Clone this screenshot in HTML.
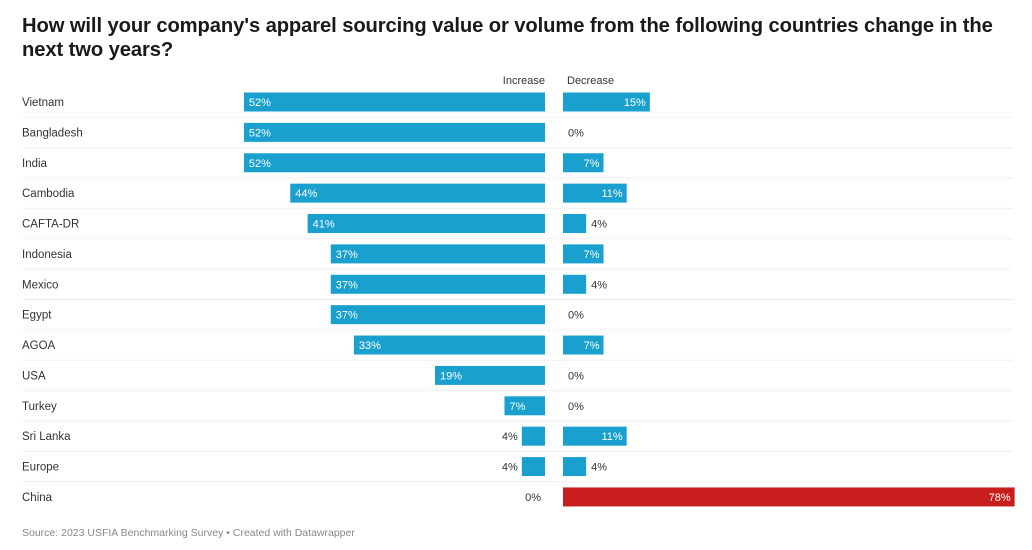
<!DOCTYPE html>
<html><head><meta charset="utf-8"><style>
body{margin:0;width:1032px;height:550px;background:#fff;font-family:"Liberation Sans",Arial,sans-serif;overflow:hidden;position:relative}
h1{position:absolute;left:22px;top:14px;margin:0;font-size:20.2px;line-height:24px;font-weight:bold;color:#1a1a1a;width:985px;letter-spacing:-0.1px}
.src{position:absolute;left:22px;top:527px;font-size:10.5px;color:#888}
.hdr{position:absolute;top:75px;font-size:11px;color:#333}
</style></head><body>
<h1>How will your company's apparel sourcing value or volume from the following countries change in the next two years?</h1>
<div class="hdr" style="right:487px">Increase</div>
<div class="hdr" style="left:567px">Decrease</div>
<svg id="chart" width="1032" height="550" style="position:absolute;left:0;top:0"></svg>
<div class="src">Source: 2023 USFIA Benchmarking Survey • Created with Datawrapper</div>
<script>
const categories=["Vietnam","Bangladesh","India","Cambodia","CAFTA-DR","Indonesia","Mexico","Egypt","AGOA","USA","Turkey","Sri Lanka","Europe","China"];
const increaseValues=[52,52,52,44,41,37,37,37,33,19,7,4,4,0];
const decreaseValues=[15,0,7,11,4,7,4,0,7,0,0,11,4,78];
const svg=document.getElementById('chart');
const NS='http://www.w3.org/2000/svg';
const k=5.79, incRight=545, decLeft=563, row0=102, rowH=30.38, bh=19;
const yC=i=>row0+i*rowH;
function mk(t,a){const e=document.createElementNS(NS,t);for(const n in a)e.setAttribute(n,a[n]);svg.appendChild(e);return e;}
categories.forEach((c,i)=>{
  const y=yC(i);
  if(i>0){const l=mk('line',{x1:22,x2:1014,y1:y-rowH/2,y2:y-rowH/2,stroke:'#e3e3e3','stroke-width':1,'stroke-dasharray':'1,1'});
  }
  const lab=mk('text',{x:22,y:y+4,'font-size':11.5,fill:'#333'});lab.textContent=c;
  
  const iv=increaseValues[i],w=iv*k;
  const r=mk('rect',{x:incRight-w,y:y-bh/2,width:w,height:bh,fill:'#1aa0cf'});
  
  let t;
  if(iv>=5){t=mk('text',{x:incRight-w+5,y:y+4,'font-size':11,fill:'#fff'});}
  else{t=mk('text',{x:incRight-w-4,y:y+4,'font-size':11,fill:'#333','text-anchor':'end'});}
  t.textContent=iv+'%';
  const dv=decreaseValues[i],dw=dv*k;
  const d=mk('rect',{x:decLeft,y:y-bh/2,width:dw,height:bh,fill:c==='China'?'#c71e1d':'#1aa0cf'});
  
  let u;
  if(dv>=5){u=mk('text',{x:decLeft+dw-4,y:y+4,'font-size':11,fill:'#fff','text-anchor':'end'});}
  else{u=mk('text',{x:decLeft+dw+5,y:y+4,'font-size':11,fill:'#333'});}
  u.textContent=dv+'%';
});
</script>
</body></html>
